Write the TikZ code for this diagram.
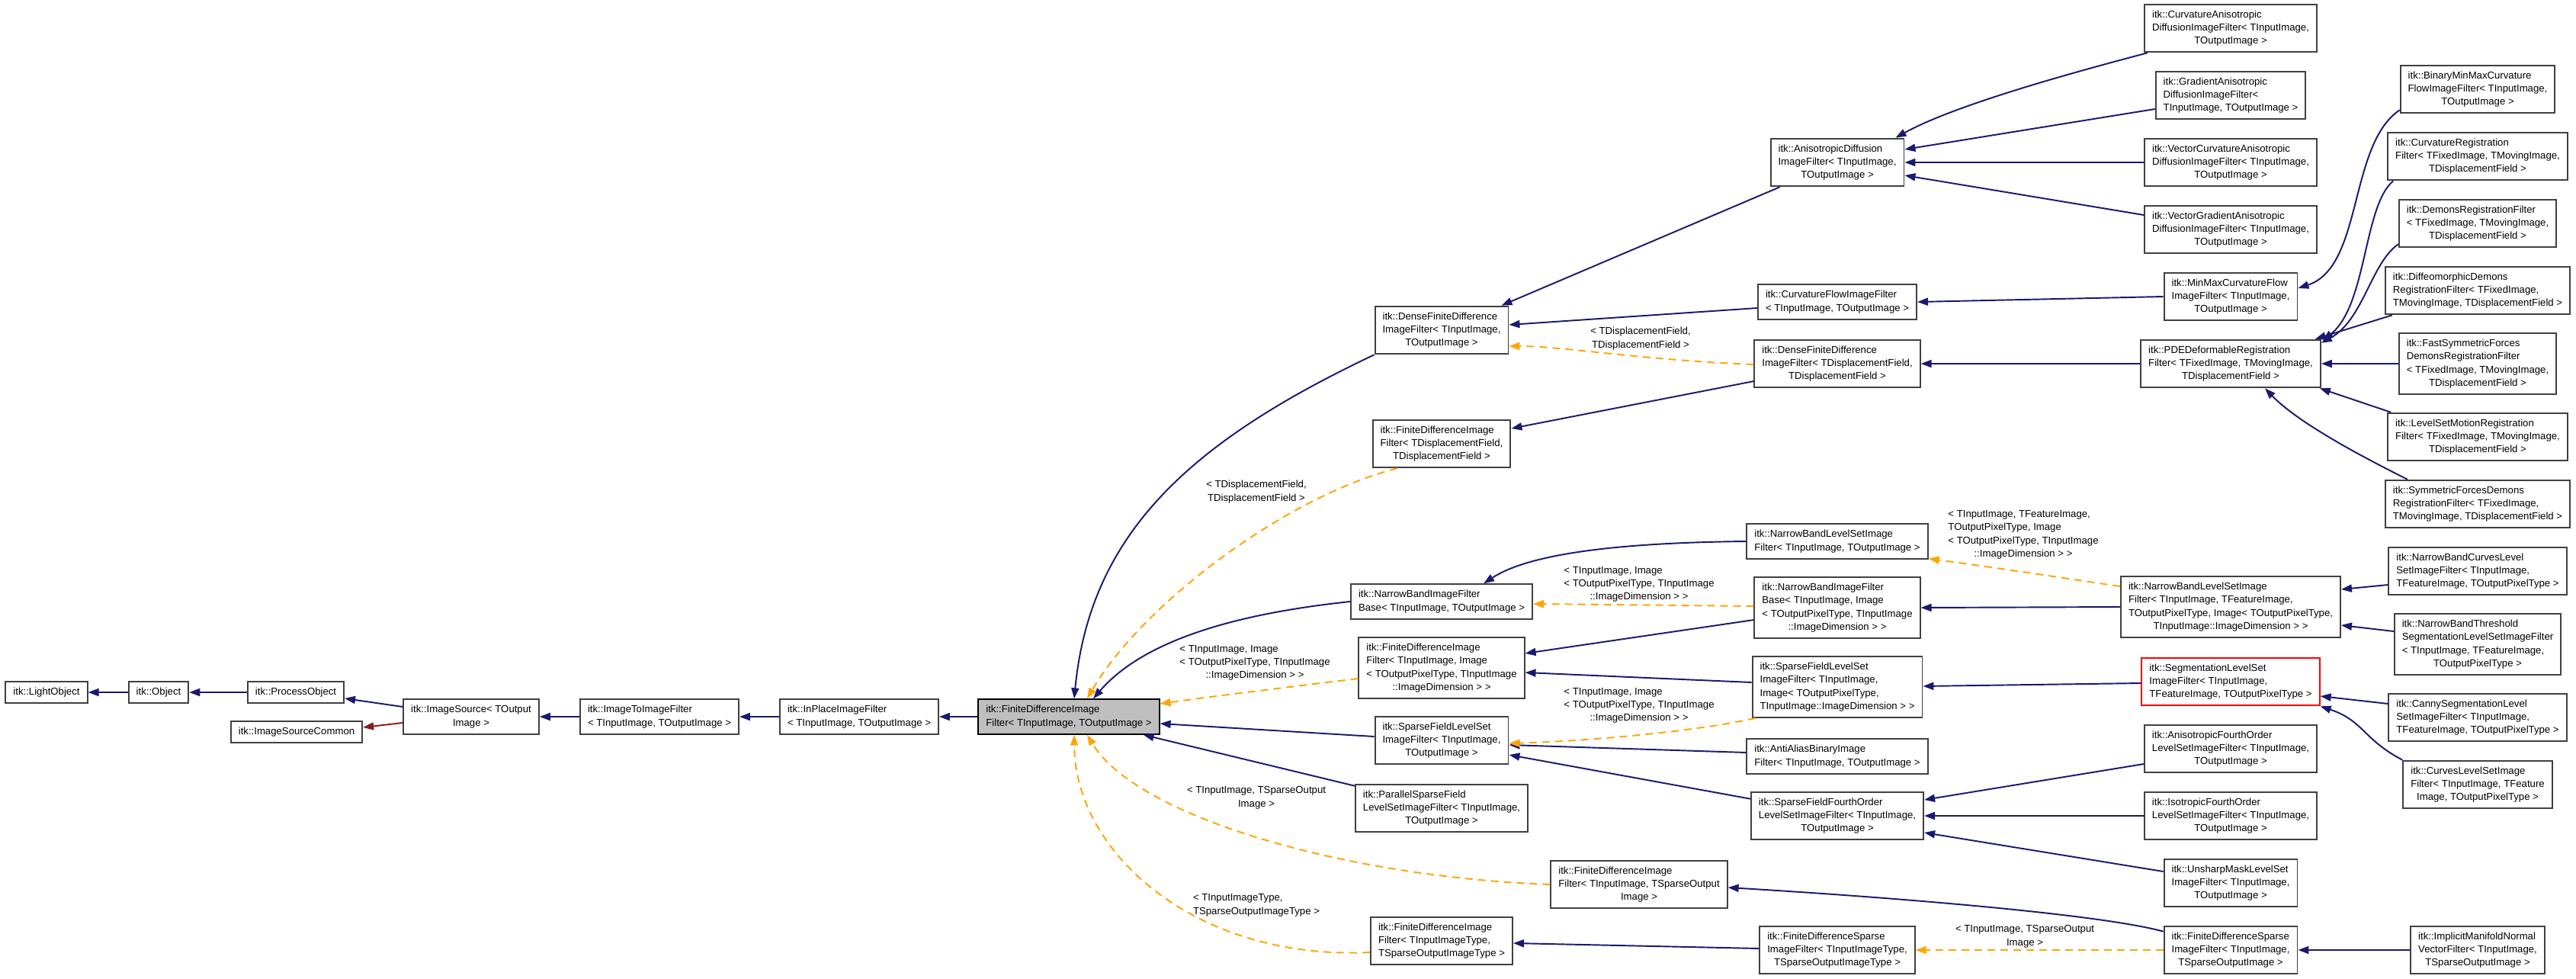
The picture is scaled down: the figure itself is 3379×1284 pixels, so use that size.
\documentclass[tikz,border=0pt]{standalone}
\usepackage{fontspec}
\setmainfont{Liberation Sans}
\usetikzlibrary{arrows.meta,calc}
\definecolor{navy}{HTML}{191970}
\definecolor{protc}{HTML}{8B1A1A}
\definecolor{tmplc}{HTML}{FFA500}
\definecolor{grayfill}{HTML}{BFBFBF}
\definecolor{boxline}{HTML}{404040}
\newcommand\boxtext[2]{\begin{tabular}{@{}l@{}}#1\\\multicolumn{1}{@{}c@{}}{#2}\end{tabular}}
\newcommand\onetext[1]{\begin{tabular}{@{}c@{}}#1\end{tabular}}
\newcommand\dfont{\fontsize{7.5pt}{9.8pt}\selectfont}
\begin{document}
\begin{tikzpicture}[x=0.02cm,y=-0.02cm,
 cbox/.style={draw=boxline, line width=1.1pt, fill=white, inner xsep=0.2cm, inner ysep=0.11cm, font=\dfont},
 graybox/.style={cbox, fill=grayfill, draw=black},
 redbox/.style={cbox, draw=red},
 lbl/.style={inner sep=0pt, font=\dfont},
 pub/.style={draw=navy, line width=1.1pt, -{Triangle[length=0.28cm,width=0.2cm]}, fill=none},
 prot/.style={draw=protc, line width=1.1pt, -{Triangle[length=0.28cm,width=0.2cm]}},
 tmpl/.style={draw=tmplc, line width=1.1pt, dash pattern=on 0.2cm off 0.14cm, -{Triangle[length=0.28cm,width=0.2cm]}}
]
\useasboundingbox (0,0) rectangle (3379,1284);
\fill[white] (0,0) rectangle (3379,1284);

% ---- left chain
\node[cbox] (lo) at (61,908) {\onetext{itk::LightObject}};
\node[cbox] (ob) at (208,908) {\onetext{itk::Object}};
\node[cbox] (po) at (388,908) {\onetext{itk::ProcessObject}};
\node[cbox] (isc) at (389,960) {\onetext{itk::ImageSourceCommon}};
\node[cbox] (is) at (618,940) {\boxtext{itk::ImageSource< TOutput}{Image >}};
\node[cbox] (itif) at (865,940) {\boxtext{itk::ImageToImageFilter}{< TInputImage, TOutputImage >}};
\node[cbox] (ipif) at (1127,940) {\boxtext{itk::InPlaceImageFilter}{< TInputImage, TOutputImage >}};
\node[graybox] (fdif) at (1402,940) {\boxtext{itk::FiniteDifferenceImage}{Filter< TInputImage, TOutputImage >}};

% ---- rank 7
\node[cbox] (dfd) at (1891,433) {\boxtext{itk::DenseFiniteDifference\\ImageFilter< TInputImage,}{TOutputImage >}};
\node[cbox] (fdd) at (1891,582) {\boxtext{itk::FiniteDifferenceImage\\Filter< TDisplacementField,}{TDisplacementField >}};
\node[cbox] (nbb) at (1891,789) {\boxtext{itk::NarrowBandImageFilter}{Base< TInputImage, TOutputImage >}};
\node[cbox] (fdi) at (1891,876) {\boxtext{itk::FiniteDifferenceImage\\Filter< TInputImage, Image\\< TOutputPixelType, TInputImage}{::ImageDimension > >}};
\node[cbox] (sfl) at (1891,971) {\boxtext{itk::SparseFieldLevelSet\\ImageFilter< TInputImage,}{TOutputImage >}};
\node[cbox] (psf) at (1891,1060) {\boxtext{itk::ParallelSparseField\\LevelSetImageFilter< TInputImage,}{TOutputImage >}};
\node[cbox] (fdt) at (1891,1234) {\boxtext{itk::FiniteDifferenceImage\\Filter< TInputImageType,}{TSparseOutputImageType >}};
\node[cbox] (fds) at (2150,1160) {\boxtext{itk::FiniteDifferenceImage\\Filter< TInputImage, TSparseOutput}{Image >}};

% ---- rank 8
\node[cbox] (ad) at (2410,213) {\boxtext{itk::AnisotropicDiffusion\\ImageFilter< TInputImage,}{TOutputImage >}};
\node[cbox] (cf) at (2410,396) {\boxtext{itk::CurvatureFlowImageFilter}{< TInputImage, TOutputImage >}};
\node[cbox] (dtd) at (2410,477) {\boxtext{itk::DenseFiniteDifference\\ImageFilter< TDisplacementField,}{TDisplacementField >}};
\node[cbox] (nbl) at (2410,710) {\boxtext{itk::NarrowBandLevelSetImage}{Filter< TInputImage, TOutputImage >}};
\node[cbox] (nbi) at (2410,797) {\boxtext{itk::NarrowBandImageFilter\\Base< TInputImage, Image\\< TOutputPixelType, TInputImage}{::ImageDimension > >}};
\node[cbox] (sfi) at (2410,901) {\boxtext{itk::SparseFieldLevelSet\\ImageFilter< TInputImage,\\Image< TOutputPixelType,}{TInputImage::ImageDimension > >}};
\node[cbox] (aab) at (2410,992) {\boxtext{itk::AntiAliasBinaryImage}{Filter< TInputImage, TOutputImage >}};
\node[cbox] (sff) at (2410,1070) {\boxtext{itk::SparseFieldFourthOrder\\LevelSetImageFilter< TInputImage,}{TOutputImage >}};
\node[cbox] (fdst) at (2410,1246) {\boxtext{itk::FiniteDifferenceSparse\\ImageFilter< TInputImageType,}{TSparseOutputImageType >}};

% ---- rank 9
\node[cbox] (cad) at (2926,37) {\boxtext{itk::CurvatureAnisotropic\\DiffusionImageFilter< TInputImage,}{TOutputImage >}};
\node[cbox] (gad) at (2926,125) {\boxtext{itk::GradientAnisotropic\\DiffusionImageFilter<}{TInputImage, TOutputImage >}};
\node[cbox] (vcad) at (2926,213) {\boxtext{itk::VectorCurvatureAnisotropic\\DiffusionImageFilter< TInputImage,}{TOutputImage >}};
\node[cbox] (vgad) at (2926,301) {\boxtext{itk::VectorGradientAnisotropic\\DiffusionImageFilter< TInputImage,}{TOutputImage >}};
\node[cbox] (mmc) at (2926,389) {\boxtext{itk::MinMaxCurvatureFlow\\ImageFilter< TInputImage,}{TOutputImage >}};
\node[cbox] (pde) at (2926,477) {\boxtext{itk::PDEDeformableRegistration\\Filter< TFixedImage, TMovingImage,}{TDisplacementField >}};
\node[cbox] (nbf) at (2926,796) {\boxtext{itk::NarrowBandLevelSetImage\\Filter< TInputImage, TFeatureImage,\\TOutputPixelType, Image< TOutputPixelType,}{TInputImage::ImageDimension > >}};
\node[redbox] (seg) at (2926,894) {\boxtext{itk::SegmentationLevelSet\\ImageFilter< TInputImage,}{TFeatureImage, TOutputPixelType >}};
\node[cbox] (afo) at (2926,982) {\boxtext{itk::AnisotropicFourthOrder\\LevelSetImageFilter< TInputImage,}{TOutputImage >}};
\node[cbox] (ifo) at (2926,1070) {\boxtext{itk::IsotropicFourthOrder\\LevelSetImageFilter< TInputImage,}{TOutputImage >}};
\node[cbox] (usm) at (2926,1158) {\boxtext{itk::UnsharpMaskLevelSet\\ImageFilter< TInputImage,}{TOutputImage >}};
\node[cbox] (fdsi) at (2926,1246) {\boxtext{itk::FiniteDifferenceSparse\\ImageFilter< TInputImage,}{TSparseOutputImage >}};

% ---- rank 10
\node[cbox] (bmm) at (3250,117) {\boxtext{itk::BinaryMinMaxCurvature\\FlowImageFilter< TInputImage,}{TOutputImage >}};
\node[cbox] (cr) at (3250,205) {\boxtext{itk::CurvatureRegistration\\Filter< TFixedImage, TMovingImage,}{TDisplacementField >}};
\node[cbox] (dr) at (3250,293) {\boxtext{itk::DemonsRegistrationFilter\\< TFixedImage, TMovingImage,}{TDisplacementField >}};
\node[cbox] (ddr) at (3250,381) {\boxtext{itk::DiffeomorphicDemons\\RegistrationFilter< TFixedImage,}{TMovingImage, TDisplacementField >}};
\node[cbox] (fsf) at (3250,477) {\boxtext{itk::FastSymmetricForces\\DemonsRegistrationFilter\\< TFixedImage, TMovingImage,}{TDisplacementField >}};
\node[cbox] (lsm) at (3250,573) {\boxtext{itk::LevelSetMotionRegistration\\Filter< TFixedImage, TMovingImage,}{TDisplacementField >}};
\node[cbox] (sfd) at (3250,661) {\boxtext{itk::SymmetricForcesDemons\\RegistrationFilter< TFixedImage,}{TMovingImage, TDisplacementField >}};
\node[cbox] (nbc) at (3250,749) {\boxtext{itk::NarrowBandCurvesLevel\\SetImageFilter< TInputImage,}{TFeatureImage, TOutputPixelType >}};
\node[cbox] (nbt) at (3250,845) {\boxtext{itk::NarrowBandThreshold\\SegmentationLevelSetImageFilter\\< TInputImage, TFeatureImage,}{TOutputPixelType >}};
\node[cbox] (csl) at (3250,941) {\boxtext{itk::CannySegmentationLevel\\SetImageFilter< TInputImage,}{TFeatureImage, TOutputPixelType >}};
\node[cbox] (cls) at (3250,1029) {\boxtext{itk::CurvesLevelSetImage\\Filter< TInputImage, TFeature}{Image, TOutputPixelType >}};
\node[cbox] (imn) at (3250,1246) {\boxtext{itk::ImplicitManifoldNormal\\VectorFilter< TInputImage,}{TSparseOutputImage >}};

% ---- edge labels
\node[lbl] (la) at (1648,645) {\boxtext{< TDisplacementField,}{TDisplacementField >}};
\node[lbl] (lb) at (1646,869) {\boxtext{< TInputImage, Image\\< TOutputPixelType, TInputImage}{::ImageDimension > >}};
\node[lbl] (lc) at (1648,1046) {\boxtext{< TInputImage, TSparseOutput}{Image >}};
\node[lbl] (ld) at (1648,1187) {\boxtext{< TInputImageType,}{TSparseOutputImageType >}};
\node[lbl] (le) at (2152,444) {\boxtext{< TDisplacementField,}{TDisplacementField >}};
\node[lbl] (lf) at (2150,766) {\boxtext{< TInputImage, Image\\< TOutputPixelType, TInputImage}{::ImageDimension > >}};
\node[lbl] (lg) at (2150,925) {\boxtext{< TInputImage, Image\\< TOutputPixelType, TInputImage}{::ImageDimension > >}};
\node[lbl] (lh) at (2654,701) {\boxtext{< TInputImage, TFeatureImage,\\TOutputPixelType, Image\\< TOutputPixelType, TInputImage}{::ImageDimension > >}};
\node[lbl] (li) at (2656,1228) {\boxtext{< TInputImage, TSparseOutput}{Image >}};

% ---- edges: left chain
\draw[pub] (ob.west) -- (lo.east);
\draw[pub] (po.west) -- (ob.east);
\draw[pub] ($(is.west)+(0,-13)$) -- ($(po.east)+(0,8)$);
\draw[prot] ($(is.west)+(0,8)$) -- ($(isc.east)+(0,-6)$);
\draw[pub] (itif.west) -- (is.east);
\draw[pub] (ipif.west) -- (itif.east);
\draw[pub] (fdif.west) -- (ipif.east);

% ---- into gray box
\draw[pub] (dfd.south west) .. controls (1560,580) and (1430,700) .. ($(fdif.north)+(7,0)$);
\draw[pub] (nbb.west) .. controls (1620,805) and (1500,840) .. ($(fdif.north)+(32,0)$);
\draw[pub] ($(sfl.west)+(0,-5)$) -- ($(fdif.east)+(0,9)$);
\draw[pub] ($(psf.north west)+(0,3)$) -- ($(fdif.south east)+(-22,0)$);
\draw[tmpl] ($(fdd.south west)+(33,0)$) .. controls (1690,650) and (1500,790) .. ($(fdif.north)+(24,0)$);
\draw[tmpl] ($(fdi.west)+(0,14)$) .. controls (1700,900) and (1600,912) .. ($(fdif.east)+(0,-17)$);
\draw[tmpl] (fds.west) .. controls (1760,1150) and (1490,1070) .. ($(fdif.south)+(24,0)$);
\draw[tmpl] ($(fdt.west)+(0,15)$) .. controls (1570,1260) and (1410,1120) .. ($(fdif.south)+(7,0)$);

% ---- rank 8 -> rank 7
\draw[pub] ($(ad.south west)+(13,0)$) -- ($(dfd.north east)+(-10,0)$);
\draw[pub] ($(cf.west)+(0,8)$) -- ($(dfd.east)+(0,-7)$);
\draw[tmpl] ($(dtd.west)+(0,1)$) .. controls (2150,472) and (2050,454) .. ($(dfd.east)+(0,21)$);
\draw[pub] ($(dtd.west)+(0,23)$) -- ($(fdd.east)+(0,-20)$);
\draw[pub] (nbl.west) .. controls (2100,712) and (2000,730) .. ($(nbb.north)+(55,0)$);
\draw[tmpl] ($(nbi.west)+(0,-2)$) -- ($(nbb.east)+(0,3)$);
\draw[pub] ($(nbi.west)+(0,16)$) -- ($(fdi.east)+(0,-19)$);
\draw[pub] ($(sfi.west)+(0,-6)$) -- ($(fdi.east)+(0,6)$);
\draw[pub] ($(aab.west)+(0,-5)$) -- ($(sfl.east)+(0,6)$);
\draw[tmpl] ($(sfi.south west)+(5,0)$) .. controls (2220,960) and (2080,972) .. ($(sfl.east)+(0,4)$);
\draw[pub] ($(sff.north west)+(0,10)$) -- ($(sfl.east)+(0,19)$);
\draw[pub] ($(fdst.west)+(0,-2)$) -- ($(fdt.east)+(0,3)$);

% ---- rank 9 -> rank 8
\draw[pub] ($(cad.south west)+(5,0)$) .. controls (2700,100) and (2560,140) .. ($(ad.north east)+(-12,0)$);
\draw[pub] ($(gad.west)+(0,18)$) -- ($(ad.east)+(0,-17)$);
\draw[pub] (vcad.west) -- (ad.east);
\draw[pub] ($(vgad.west)+(0,-19)$) -- ($(ad.east)+(0,17)$);
\draw[pub] (mmc.west) -- (cf.east);
\draw[pub] (pde.west) -- (dtd.east);
\draw[pub] (nbf.west) -- (nbi.east);
\draw[tmpl] ($(nbf.north west)+(0,14)$) .. controls (2700,757) and (2600,742) .. ($(nbl.south east)+(0,-1)$);
\draw[pub] ($(seg.west)+(0,2)$) -- ($(sfi.east)+(0,-1)$);
\draw[pub] ($(afo.west)+(0,20)$) -- ($(sff.east)+(0,-21)$);
\draw[pub] (ifo.west) -- (sff.east);
\draw[pub] ($(usm.west)+(0,-15)$) -- ($(sff.east)+(0,22)$);
\draw[tmpl] (fdsi.west) -- (fdst.east);
\draw[pub] ($(fdsi.north west)+(0,8)$) .. controls (2760,1200) and (2500,1178) .. ($(fds.east)+(0,4)$);

% ---- rank 10 -> rank 9
\draw[pub] ($(bmm.south west)+(0,-5)$) .. controls (3080,190) and (3100,350) .. ($(mmc.east)+(0,-11)$);
\draw[pub] ($(cr.south west)+(8,0)$) .. controls (3100,270) and (3105,400) .. ($(pde.north east)+(2,2)$);
\draw[pub] ($(dr.south west)+(0,-5)$) .. controls (3110,345) and (3100,420) .. ($(pde.north east)+(0,5)$);
\draw[pub] ($(ddr.south west)+(10,0)$) -- ($(pde.north east)+(-8,0)$);
\draw[pub] (fsf.west) -- (pde.east);
\draw[pub] ($(lsm.north west)+(5,0)$) -- ($(pde.south east)+(-2,0)$);
\draw[pub] ($(sfd.north west)+(30,0)$) .. controls (3080,590) and (3010,550) .. ($(pde.south)+(45,0)$);
\draw[pub] ($(nbc.west)+(0,18)$) -- ($(nbf.east)+(0,-23)$);
\draw[pub] ($(nbt.west)+(0,-17)$) -- ($(nbf.east)+(0,24)$);
\draw[pub] ($(csl.west)+(0,-18)$) -- ($(seg.east)+(0,19)$);
\draw[pub] (cls.north west) .. controls (3100,970) and (3100,945) .. (seg.south east);
\draw[pub] (imn.west) -- (fdsi.east);
\end{tikzpicture}
\end{document}
